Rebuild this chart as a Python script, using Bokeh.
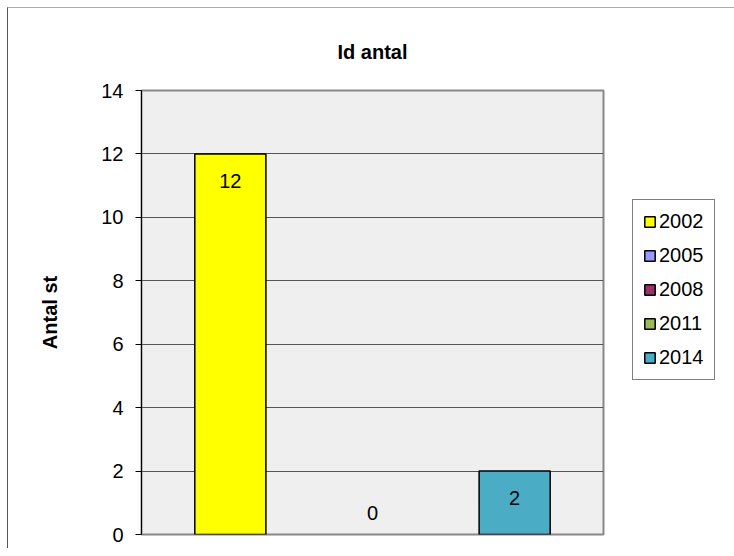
from bokeh.plotting import figure
from bokeh.models import Range1d, FixedTicker, Legend, LegendItem, ColumnDataSource
from bokeh.core.properties import value
from bokeh.embed import file_html
from bokeh.resources import INLINE
import math

# ---- data ----
series = ["2002", "2005", "2008", "2011", "2014"]
counts = [12, None, 0, None, 2]
colors = ["#FFFF00", "#9999FF", "#993366", "#9BBB59", "#4BACC6"]
y_ticks = [0, 2, 4, 6, 8, 10, 12, 14]
title_text = "Id antal"
y_label = "Antal st"

FONT = "Liberation Sans"
FS = "20px"

p = figure(frame_width=462, frame_height=444, output_backend="svg", toolbar_location=None,
           x_range=Range1d(-3.25, 3.25), y_range=Range1d(0, 14),
           min_border_left=133, min_border_right=130, min_border_top=82, min_border_bottom=14)
p.styles = {"border-left": "1px solid #555555", "border-top": "1px solid #aaaaaa",
            "margin-left": "7px", "margin-top": "7px"}

p.background_fill_color = "#EFEFEF"
p.border_fill_color = "white"
p.outline_line_color = "#888888"
p.outline_line_width = 2

p.title.text = title_text
p.title.align = "center"
p.title.text_font = FONT
p.title.text_font_size = FS
p.title.text_font_style = "bold"
p.title.text_color = "black"
p.title.standoff = 56

p.xaxis.visible = False
p.xgrid.visible = False

yax = p.yaxis[0]
yax.ticker = FixedTicker(ticks=y_ticks)
yax.minor_tick_line_color = None
yax.major_tick_out = 6
yax.major_tick_in = 0
yax.major_tick_line_color = "black"
yax.axis_line_color = "black"
yax.major_label_text_font = FONT
yax.major_label_text_font_size = FS
yax.major_label_text_color = "black"
yax.major_label_standoff = 12
yax.axis_label = y_label
yax.axis_label_text_font = FONT
yax.axis_label_text_font_size = FS
yax.axis_label_text_font_style = "bold"
yax.axis_label_text_color = "black"
yax.axis_label_standoff = 37

p.ygrid.grid_line_color = "#555555"
p.ygrid.grid_line_width = 1

items = []
lbl_x, lbl_y, lbl_t, lbl_off = [], [], [], []
for i, (name, v, c) in enumerate(zip(series, counts, colors)):
    x = i - (len(series) - 1) / 2
    top = v if (v is not None and v > 0) else math.nan
    src = ColumnDataSource(dict(x=[x], top=[top]))
    r = p.vbar(x="x", top="top", bottom=0, width=1.0, source=src,
               fill_color=c, line_color="black", line_width=1.5)
    items.append(LegendItem(label=name, renderers=[r]))
    if v is not None:
        lbl_x.append(x)
        lbl_y.append(v)
        lbl_t.append(str(v))
        lbl_off.append(27 if v > 0 else -22)

p.text(x=lbl_x, y=lbl_y, text=lbl_t, y_offset=lbl_off,
       text_align="center", text_baseline="middle",
       text_font=value(FONT), text_font_size=FS, text_color="black")

legend = Legend(items=items, location=(29, 154))
legend.label_text_font = FONT
legend.label_text_font_size = FS
legend.label_text_color = "black"
legend.glyph_width = 13
legend.glyph_height = 13
legend.label_height = 22
legend.label_width = 45
legend.label_standoff = 3
legend.spacing = 11
legend.padding = 10
legend.margin = 0
legend.border_line_color = "black"
legend.border_line_width = 1
legend.background_fill_color = "white"
legend.background_fill_alpha = 1.0
p.add_layout(legend, "right")

open("out.html", "w").write(file_html(p, INLINE))
